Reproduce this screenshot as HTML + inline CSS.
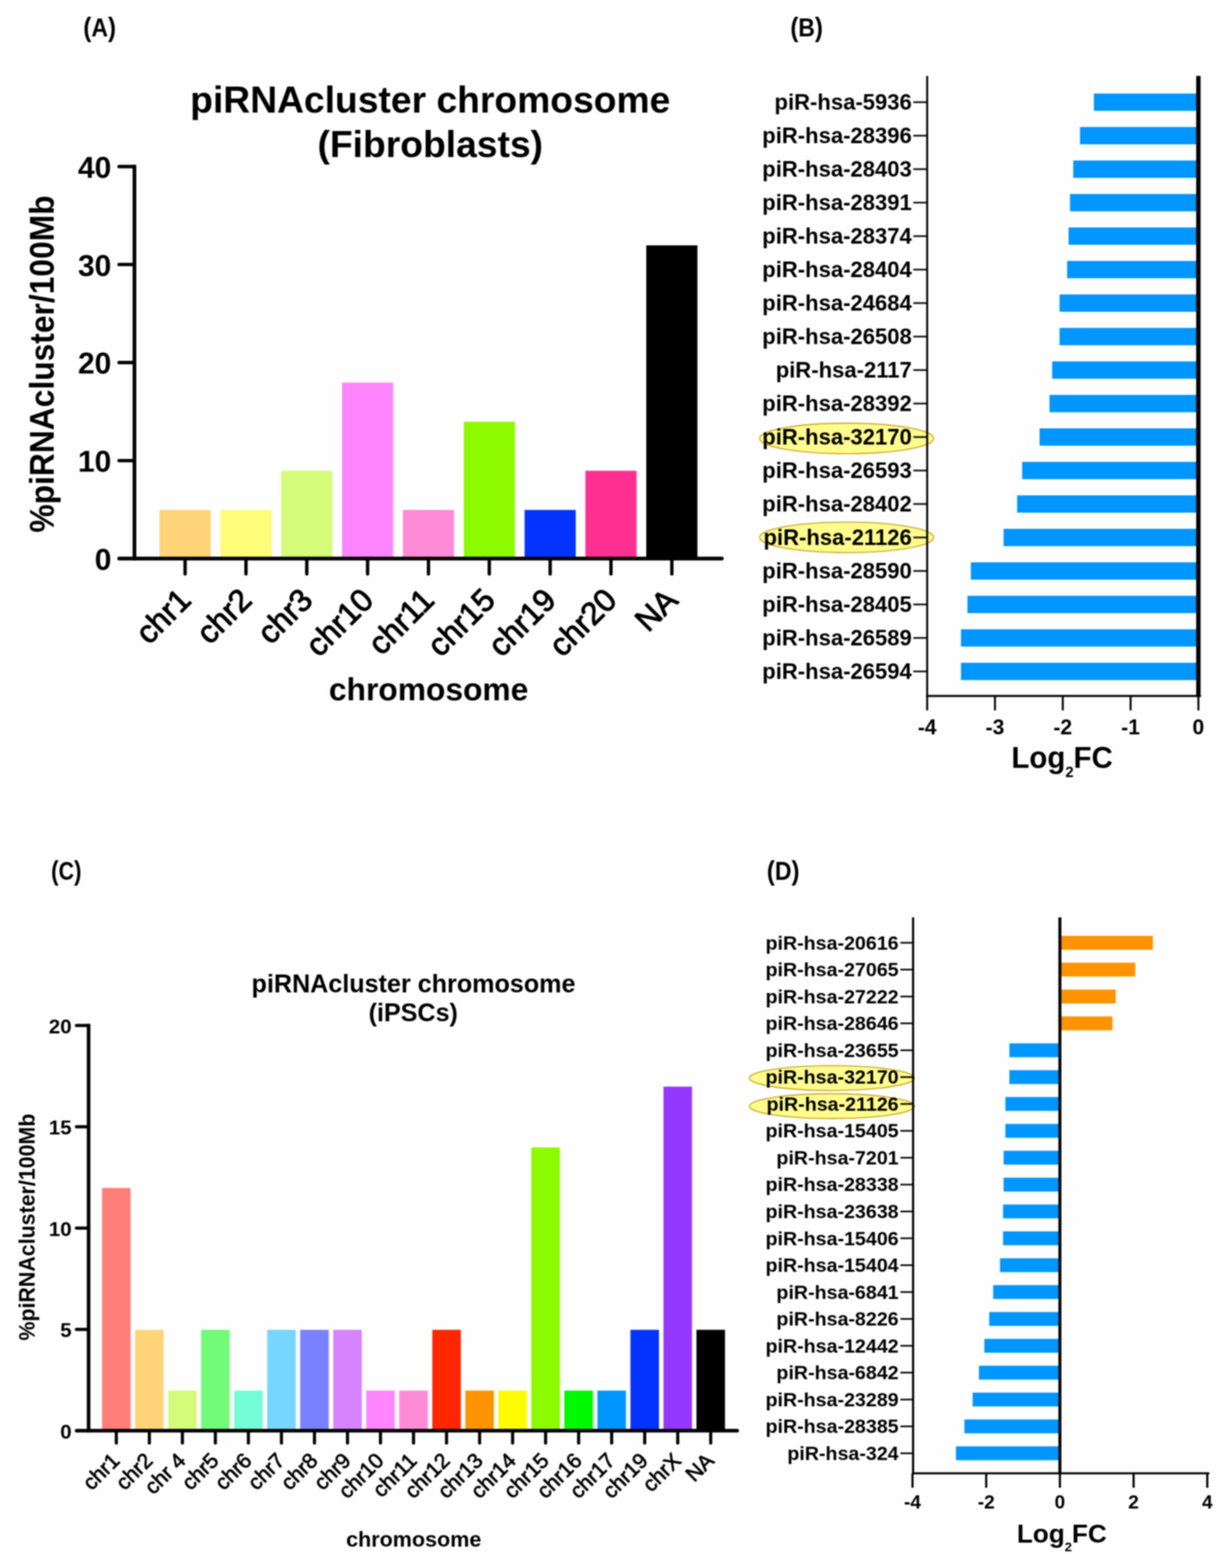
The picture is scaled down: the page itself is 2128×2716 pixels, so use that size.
<!DOCTYPE html>
<html lang="en">
<head>
<meta charset="utf-8">
<title>piRNAcluster chromosome figure</title>
<style>
html,body{margin:0;padding:0;background:#fefefe;}
body{width:2128px;height:2716px;overflow:hidden;}
svg{display:block;filter:blur(0.8px);}
svg text{font-family:"Liberation Sans", Arial, Helvetica, sans-serif;font-weight:700;fill:#000;}
svg text.r{font-weight:400;stroke:#000;stroke-width:1.1px;stroke-linejoin:round;}
svg text.ra{stroke-width:1.6px;}
</style>
</head>
<body>
<svg width="2128" height="2716" viewBox="0 0 2128 2716">
<rect x="0" y="0" width="2128" height="2716" fill="#fefefe"/>
<g id="panelA">
<text x="144.3" y="62.8" font-size="43.5" text-anchor="start" textLength="56.5" lengthAdjust="spacingAndGlyphs"><tspan font-size="45.5">(</tspan>A<tspan font-size="45.5">)</tspan></text>
<text x="745.0" y="195.4" font-size="64.5" text-anchor="middle">piRNAcluster chromosome</text>
<text x="745.0" y="271.8" font-size="64.5" text-anchor="middle">(Fibroblasts)</text>
<rect x="276.2" y="883.3" width="88.6" height="84.2" fill="#FFD479"/>
<rect x="381.6" y="883.3" width="88.6" height="84.2" fill="#FFFC79"/>
<rect x="486.9" y="815.4" width="88.6" height="152.1" fill="#D4FB79"/>
<rect x="592.2" y="662.7" width="88.6" height="304.8" fill="#FF85FF"/>
<rect x="697.6" y="883.3" width="88.6" height="84.2" fill="#FF8AD8"/>
<rect x="803.0" y="730.5" width="88.6" height="237.0" fill="#8EFA00"/>
<rect x="908.3" y="883.3" width="88.6" height="84.2" fill="#0433FF"/>
<rect x="1013.6" y="815.4" width="88.6" height="152.1" fill="#FF2F92"/>
<rect x="1119.0" y="425.0" width="88.6" height="542.5" fill="#000000"/>
<line x1="232.8" y1="285.6" x2="232.8" y2="970.7" stroke="#000" stroke-width="6.4"/>
<line x1="206.4" y1="967.5" x2="1249.8" y2="967.5" stroke="#000" stroke-width="6.4" stroke-linecap="round"/>
<line x1="206.1" y1="797.8" x2="232.8" y2="797.8" stroke="#000" stroke-width="5.8" stroke-linecap="round"/>
<line x1="206.1" y1="628.0" x2="232.8" y2="628.0" stroke="#000" stroke-width="5.8" stroke-linecap="round"/>
<line x1="206.1" y1="458.2" x2="232.8" y2="458.2" stroke="#000" stroke-width="5.8" stroke-linecap="round"/>
<line x1="206.1" y1="288.5" x2="232.8" y2="288.5" stroke="#000" stroke-width="5.8" stroke-linecap="round"/>
<text x="192.8" y="986.9" font-size="52" text-anchor="end">0</text>
<text x="192.8" y="817.1" font-size="52" text-anchor="end">10</text>
<text x="192.8" y="647.4" font-size="52" text-anchor="end">20</text>
<text x="192.8" y="477.6" font-size="52" text-anchor="end">30</text>
<text x="192.8" y="307.9" font-size="52" text-anchor="end">40</text>
<line x1="320.5" y1="967.5" x2="320.5" y2="994.1" stroke="#000" stroke-width="5.8" stroke-linecap="round"/>
<text x="333.6" y="1042.7" font-size="55" text-anchor="end" transform="rotate(-45 333.6 1042.7)" class="r ra">chr1</text>
<line x1="425.9" y1="967.5" x2="425.9" y2="994.1" stroke="#000" stroke-width="5.8" stroke-linecap="round"/>
<text x="439.0" y="1042.7" font-size="55" text-anchor="end" transform="rotate(-45 439.0 1042.7)" class="r ra">chr2</text>
<line x1="531.2" y1="967.5" x2="531.2" y2="994.1" stroke="#000" stroke-width="5.8" stroke-linecap="round"/>
<text x="544.3" y="1042.7" font-size="55" text-anchor="end" transform="rotate(-45 544.3 1042.7)" class="r ra">chr3</text>
<line x1="636.5" y1="967.5" x2="636.5" y2="994.1" stroke="#000" stroke-width="5.8" stroke-linecap="round"/>
<text x="649.6" y="1042.7" font-size="55" text-anchor="end" transform="rotate(-45 649.6 1042.7)" class="r ra">chr10</text>
<line x1="741.9" y1="967.5" x2="741.9" y2="994.1" stroke="#000" stroke-width="5.8" stroke-linecap="round"/>
<text x="755.0" y="1042.7" font-size="55" text-anchor="end" transform="rotate(-45 755.0 1042.7)" class="r ra">chr11</text>
<line x1="847.2" y1="967.5" x2="847.2" y2="994.1" stroke="#000" stroke-width="5.8" stroke-linecap="round"/>
<text x="860.4" y="1042.7" font-size="55" text-anchor="end" transform="rotate(-45 860.4 1042.7)" class="r ra">chr15</text>
<line x1="952.6" y1="967.5" x2="952.6" y2="994.1" stroke="#000" stroke-width="5.8" stroke-linecap="round"/>
<text x="965.7" y="1042.7" font-size="55" text-anchor="end" transform="rotate(-45 965.7 1042.7)" class="r ra">chr19</text>
<line x1="1057.9" y1="967.5" x2="1057.9" y2="994.1" stroke="#000" stroke-width="5.8" stroke-linecap="round"/>
<text x="1071.0" y="1042.7" font-size="55" text-anchor="end" transform="rotate(-45 1071.0 1042.7)" class="r ra">chr20</text>
<line x1="1163.3" y1="967.5" x2="1163.3" y2="994.1" stroke="#000" stroke-width="5.8" stroke-linecap="round"/>
<text x="1176.4" y="1042.7" font-size="55" text-anchor="end" transform="rotate(-45 1176.4 1042.7)" class="r ra">NA</text>
<text x="92.5" y="630.5" font-size="59.5" text-anchor="middle" transform="rotate(-90 92.5 630.5)" textLength="584" lengthAdjust="spacingAndGlyphs">%piRNAcluster/100Mb</text>
<text x="742.2" y="1213.4" font-size="55" text-anchor="middle">chromosome</text>
</g>
<g id="panelB">
<text x="1368.4" y="62.8" font-size="43.5" text-anchor="start" textLength="56.5" lengthAdjust="spacingAndGlyphs"><tspan font-size="45.5">(</tspan>B<tspan font-size="45.5">)</tspan></text>
<ellipse cx="1466.0" cy="759.4" rx="150.8" ry="26.4" fill="#FFFC8E" stroke="#C8A21C" stroke-width="1.8"/>
<ellipse cx="1466.0" cy="930.8" rx="150.8" ry="26.4" fill="#FFFC8E" stroke="#C8A21C" stroke-width="1.8"/>
<rect x="1894.0" y="162.0" width="181.0" height="30.0" fill="#0096FF"/>
<line x1="1581.4" y1="177.0" x2="1605.4" y2="177.0" stroke="#000" stroke-width="2.8"/>
<text x="1578.8" y="190.1" font-size="38.2" text-anchor="end">piR-hsa-5936</text>
<rect x="1870.0" y="220.0" width="205.0" height="30.0" fill="#0096FF"/>
<line x1="1581.4" y1="235.0" x2="1605.4" y2="235.0" stroke="#000" stroke-width="2.8"/>
<text x="1578.8" y="248.1" font-size="38.2" text-anchor="end">piR-hsa-28396</text>
<rect x="1858.3" y="278.0" width="216.7" height="30.0" fill="#0096FF"/>
<line x1="1581.4" y1="293.0" x2="1605.4" y2="293.0" stroke="#000" stroke-width="2.8"/>
<text x="1578.8" y="306.1" font-size="38.2" text-anchor="end">piR-hsa-28403</text>
<rect x="1852.7" y="336.0" width="222.3" height="30.0" fill="#0096FF"/>
<line x1="1581.4" y1="351.0" x2="1605.4" y2="351.0" stroke="#000" stroke-width="2.8"/>
<text x="1578.8" y="364.1" font-size="38.2" text-anchor="end">piR-hsa-28391</text>
<rect x="1850.2" y="394.0" width="224.8" height="30.0" fill="#0096FF"/>
<line x1="1581.4" y1="409.0" x2="1605.4" y2="409.0" stroke="#000" stroke-width="2.8"/>
<text x="1578.8" y="422.1" font-size="38.2" text-anchor="end">piR-hsa-28374</text>
<rect x="1847.7" y="452.0" width="227.3" height="30.0" fill="#0096FF"/>
<line x1="1581.4" y1="467.0" x2="1605.4" y2="467.0" stroke="#000" stroke-width="2.8"/>
<text x="1578.8" y="480.1" font-size="38.2" text-anchor="end">piR-hsa-28404</text>
<rect x="1834.6" y="510.0" width="240.4" height="30.0" fill="#0096FF"/>
<line x1="1581.4" y1="525.0" x2="1605.4" y2="525.0" stroke="#000" stroke-width="2.8"/>
<text x="1578.8" y="538.1" font-size="38.2" text-anchor="end">piR-hsa-24684</text>
<rect x="1834.6" y="568.0" width="240.4" height="30.0" fill="#0096FF"/>
<line x1="1581.4" y1="583.0" x2="1605.4" y2="583.0" stroke="#000" stroke-width="2.8"/>
<text x="1578.8" y="596.1" font-size="38.2" text-anchor="end">piR-hsa-26508</text>
<rect x="1821.8" y="626.0" width="253.2" height="30.0" fill="#0096FF"/>
<line x1="1581.4" y1="641.0" x2="1605.4" y2="641.0" stroke="#000" stroke-width="2.8"/>
<text x="1578.8" y="654.1" font-size="38.2" text-anchor="end">piR-hsa-2117</text>
<rect x="1817.2" y="684.0" width="257.8" height="30.0" fill="#0096FF"/>
<line x1="1581.4" y1="699.0" x2="1605.4" y2="699.0" stroke="#000" stroke-width="2.8"/>
<text x="1578.8" y="712.1" font-size="38.2" text-anchor="end">piR-hsa-28392</text>
<rect x="1800.0" y="742.0" width="275.0" height="30.0" fill="#0096FF"/>
<line x1="1581.4" y1="757.0" x2="1605.4" y2="757.0" stroke="#000" stroke-width="2.8"/>
<text x="1578.8" y="770.1" font-size="38.2" text-anchor="end">piR-hsa-32170</text>
<rect x="1769.8" y="800.0" width="305.2" height="30.0" fill="#0096FF"/>
<line x1="1581.4" y1="815.0" x2="1605.4" y2="815.0" stroke="#000" stroke-width="2.8"/>
<text x="1578.8" y="828.1" font-size="38.2" text-anchor="end">piR-hsa-26593</text>
<rect x="1761.1" y="858.0" width="313.9" height="30.0" fill="#0096FF"/>
<line x1="1581.4" y1="873.0" x2="1605.4" y2="873.0" stroke="#000" stroke-width="2.8"/>
<text x="1578.8" y="886.1" font-size="38.2" text-anchor="end">piR-hsa-28402</text>
<rect x="1737.7" y="916.0" width="337.3" height="30.0" fill="#0096FF"/>
<line x1="1581.4" y1="931.0" x2="1605.4" y2="931.0" stroke="#000" stroke-width="2.8"/>
<text x="1578.8" y="944.1" font-size="38.2" text-anchor="end">piR-hsa-21126</text>
<rect x="1681.0" y="974.0" width="394.0" height="30.0" fill="#0096FF"/>
<line x1="1581.4" y1="989.0" x2="1605.4" y2="989.0" stroke="#000" stroke-width="2.8"/>
<text x="1578.8" y="1002.1" font-size="38.2" text-anchor="end">piR-hsa-28590</text>
<rect x="1675.1" y="1032.0" width="399.9" height="30.0" fill="#0096FF"/>
<line x1="1581.4" y1="1047.0" x2="1605.4" y2="1047.0" stroke="#000" stroke-width="2.8"/>
<text x="1578.8" y="1060.1" font-size="38.2" text-anchor="end">piR-hsa-28405</text>
<rect x="1663.9" y="1090.0" width="411.1" height="30.0" fill="#0096FF"/>
<line x1="1581.4" y1="1105.0" x2="1605.4" y2="1105.0" stroke="#000" stroke-width="2.8"/>
<text x="1578.8" y="1118.1" font-size="38.2" text-anchor="end">piR-hsa-26589</text>
<rect x="1663.9" y="1148.0" width="411.1" height="30.0" fill="#0096FF"/>
<line x1="1581.4" y1="1163.0" x2="1605.4" y2="1163.0" stroke="#000" stroke-width="2.8"/>
<text x="1578.8" y="1176.1" font-size="38.2" text-anchor="end">piR-hsa-26594</text>
<line x1="1605.4" y1="131.5" x2="1605.4" y2="1207.2" stroke="#000" stroke-width="3.4"/>
<line x1="1603.7" y1="1205.5" x2="2079.5" y2="1205.5" stroke="#000" stroke-width="3.4"/>
<line x1="2075.0" y1="131.5" x2="2075.0" y2="1207.2" stroke="#000" stroke-width="7.6"/>
<line x1="1605.4" y1="1205.5" x2="1605.4" y2="1230.5" stroke="#000" stroke-width="3.4"/>
<text x="1605.4" y="1272.0" font-size="36.5" text-anchor="middle">-4</text>
<line x1="1722.8" y1="1205.5" x2="1722.8" y2="1230.5" stroke="#000" stroke-width="3.4"/>
<text x="1722.8" y="1272.0" font-size="36.5" text-anchor="middle">-3</text>
<line x1="1840.2" y1="1205.5" x2="1840.2" y2="1230.5" stroke="#000" stroke-width="3.4"/>
<text x="1840.2" y="1272.0" font-size="36.5" text-anchor="middle">-2</text>
<line x1="1957.6" y1="1205.5" x2="1957.6" y2="1230.5" stroke="#000" stroke-width="3.4"/>
<text x="1957.6" y="1272.0" font-size="36.5" text-anchor="middle">-1</text>
<line x1="2075.0" y1="1205.5" x2="2075.0" y2="1230.5" stroke="#000" stroke-width="3.4"/>
<text x="2075.0" y="1272.0" font-size="36.5" text-anchor="middle">0</text>
<text x="1839.0" y="1329.5" font-size="51" text-anchor="middle">Log<tspan font-size="25.5" dy="16.8">2</tspan><tspan dy="-16.8">FC</tspan></text>
</g>
<g id="panelC">
<text x="88.6" y="1524.2" font-size="43.5" text-anchor="start" textLength="52.5" lengthAdjust="spacingAndGlyphs"><tspan font-size="45.5">(</tspan>C<tspan font-size="45.5">)</tspan></text>
<text x="716.0" y="1719.3" font-size="43.5" text-anchor="middle">piRNAcluster chromosome</text>
<text x="715.5" y="1769.2" font-size="43.5" text-anchor="middle">(iPSCs)</text>
<rect x="176.7" y="2057.7" width="49.4" height="420.5" fill="#FF7E79"/>
<rect x="233.9" y="2303.4" width="49.4" height="174.8" fill="#FFD479"/>
<rect x="291.1" y="2408.7" width="49.4" height="69.5" fill="#D4FB79"/>
<rect x="348.2" y="2303.4" width="49.4" height="174.8" fill="#73FA79"/>
<rect x="405.4" y="2408.7" width="49.4" height="69.5" fill="#73FCD6"/>
<rect x="462.6" y="2303.4" width="49.4" height="174.8" fill="#76D6FF"/>
<rect x="519.8" y="2303.4" width="49.4" height="174.8" fill="#7A81FF"/>
<rect x="577.0" y="2303.4" width="49.4" height="174.8" fill="#D783FF"/>
<rect x="634.1" y="2408.7" width="49.4" height="69.5" fill="#FF85FF"/>
<rect x="691.3" y="2408.7" width="49.4" height="69.5" fill="#FF8AD8"/>
<rect x="748.5" y="2303.4" width="49.4" height="174.8" fill="#FF2600"/>
<rect x="805.7" y="2408.7" width="49.4" height="69.5" fill="#FF9300"/>
<rect x="862.9" y="2408.7" width="49.4" height="69.5" fill="#FFFB00"/>
<rect x="920.0" y="1987.5" width="49.4" height="490.7" fill="#8EFA00"/>
<rect x="977.2" y="2408.7" width="49.4" height="69.5" fill="#00F900"/>
<rect x="1034.4" y="2408.7" width="49.4" height="69.5" fill="#0096FF"/>
<rect x="1091.6" y="2303.4" width="49.4" height="174.8" fill="#0433FF"/>
<rect x="1148.8" y="1882.2" width="49.4" height="596.0" fill="#9437FF"/>
<rect x="1205.9" y="2303.4" width="49.4" height="174.8" fill="#000000"/>
<line x1="153.4" y1="1773.5" x2="153.4" y2="2481.3" stroke="#000" stroke-width="6.2"/>
<line x1="132.7" y1="2478.2" x2="1276.4" y2="2478.2" stroke="#000" stroke-width="6.2" stroke-linecap="round"/>
<line x1="132.3" y1="2302.7" x2="153.4" y2="2302.7" stroke="#000" stroke-width="5.4" stroke-linecap="round"/>
<line x1="132.3" y1="2127.2" x2="153.4" y2="2127.2" stroke="#000" stroke-width="5.4" stroke-linecap="round"/>
<line x1="132.3" y1="1951.7" x2="153.4" y2="1951.7" stroke="#000" stroke-width="5.4" stroke-linecap="round"/>
<line x1="132.3" y1="1776.2" x2="153.4" y2="1776.2" stroke="#000" stroke-width="5.4" stroke-linecap="round"/>
<text x="124.0" y="2491.6" font-size="35.5" text-anchor="end">0</text>
<text x="124.0" y="2316.1" font-size="35.5" text-anchor="end">5</text>
<text x="124.0" y="2140.6" font-size="35.5" text-anchor="end">10</text>
<text x="124.0" y="1965.1" font-size="35.5" text-anchor="end">15</text>
<text x="124.0" y="1789.6" font-size="35.5" text-anchor="end">20</text>
<line x1="201.4" y1="2478.2" x2="201.4" y2="2499.6" stroke="#000" stroke-width="5.4" stroke-linecap="round"/>
<text x="209.2" y="2532.3" font-size="36.9" text-anchor="end" transform="rotate(-45 209.2 2532.3)" class="r">chr1</text>
<line x1="258.6" y1="2478.2" x2="258.6" y2="2499.6" stroke="#000" stroke-width="5.4" stroke-linecap="round"/>
<text x="266.4" y="2532.3" font-size="36.9" text-anchor="end" transform="rotate(-45 266.4 2532.3)" class="r">chr2</text>
<line x1="315.8" y1="2478.2" x2="315.8" y2="2499.6" stroke="#000" stroke-width="5.4" stroke-linecap="round"/>
<text x="323.6" y="2532.3" font-size="36.9" text-anchor="end" transform="rotate(-45 323.6 2532.3)" class="r">chr 4</text>
<line x1="372.9" y1="2478.2" x2="372.9" y2="2499.6" stroke="#000" stroke-width="5.4" stroke-linecap="round"/>
<text x="380.7" y="2532.3" font-size="36.9" text-anchor="end" transform="rotate(-45 380.7 2532.3)" class="r">chr5</text>
<line x1="430.1" y1="2478.2" x2="430.1" y2="2499.6" stroke="#000" stroke-width="5.4" stroke-linecap="round"/>
<text x="437.9" y="2532.3" font-size="36.9" text-anchor="end" transform="rotate(-45 437.9 2532.3)" class="r">chr6</text>
<line x1="487.3" y1="2478.2" x2="487.3" y2="2499.6" stroke="#000" stroke-width="5.4" stroke-linecap="round"/>
<text x="495.1" y="2532.3" font-size="36.9" text-anchor="end" transform="rotate(-45 495.1 2532.3)" class="r">chr7</text>
<line x1="544.5" y1="2478.2" x2="544.5" y2="2499.6" stroke="#000" stroke-width="5.4" stroke-linecap="round"/>
<text x="552.3" y="2532.3" font-size="36.9" text-anchor="end" transform="rotate(-45 552.3 2532.3)" class="r">chr8</text>
<line x1="601.7" y1="2478.2" x2="601.7" y2="2499.6" stroke="#000" stroke-width="5.4" stroke-linecap="round"/>
<text x="609.5" y="2532.3" font-size="36.9" text-anchor="end" transform="rotate(-45 609.5 2532.3)" class="r">chr9</text>
<line x1="658.8" y1="2478.2" x2="658.8" y2="2499.6" stroke="#000" stroke-width="5.4" stroke-linecap="round"/>
<text x="666.6" y="2532.3" font-size="36.9" text-anchor="end" transform="rotate(-45 666.6 2532.3)" class="r">chr10</text>
<line x1="716.0" y1="2478.2" x2="716.0" y2="2499.6" stroke="#000" stroke-width="5.4" stroke-linecap="round"/>
<text x="723.8" y="2532.3" font-size="36.9" text-anchor="end" transform="rotate(-45 723.8 2532.3)" class="r">chr11</text>
<line x1="773.2" y1="2478.2" x2="773.2" y2="2499.6" stroke="#000" stroke-width="5.4" stroke-linecap="round"/>
<text x="781.0" y="2532.3" font-size="36.9" text-anchor="end" transform="rotate(-45 781.0 2532.3)" class="r">chr12</text>
<line x1="830.4" y1="2478.2" x2="830.4" y2="2499.6" stroke="#000" stroke-width="5.4" stroke-linecap="round"/>
<text x="838.2" y="2532.3" font-size="36.9" text-anchor="end" transform="rotate(-45 838.2 2532.3)" class="r">chr13</text>
<line x1="887.6" y1="2478.2" x2="887.6" y2="2499.6" stroke="#000" stroke-width="5.4" stroke-linecap="round"/>
<text x="895.4" y="2532.3" font-size="36.9" text-anchor="end" transform="rotate(-45 895.4 2532.3)" class="r">chr14</text>
<line x1="944.7" y1="2478.2" x2="944.7" y2="2499.6" stroke="#000" stroke-width="5.4" stroke-linecap="round"/>
<text x="952.5" y="2532.3" font-size="36.9" text-anchor="end" transform="rotate(-45 952.5 2532.3)" class="r">chr15</text>
<line x1="1001.9" y1="2478.2" x2="1001.9" y2="2499.6" stroke="#000" stroke-width="5.4" stroke-linecap="round"/>
<text x="1009.7" y="2532.3" font-size="36.9" text-anchor="end" transform="rotate(-45 1009.7 2532.3)" class="r">chr16</text>
<line x1="1059.1" y1="2478.2" x2="1059.1" y2="2499.6" stroke="#000" stroke-width="5.4" stroke-linecap="round"/>
<text x="1066.9" y="2532.3" font-size="36.9" text-anchor="end" transform="rotate(-45 1066.9 2532.3)" class="r">chr17</text>
<line x1="1116.3" y1="2478.2" x2="1116.3" y2="2499.6" stroke="#000" stroke-width="5.4" stroke-linecap="round"/>
<text x="1124.1" y="2532.3" font-size="36.9" text-anchor="end" transform="rotate(-45 1124.1 2532.3)" class="r">chr19</text>
<line x1="1173.5" y1="2478.2" x2="1173.5" y2="2499.6" stroke="#000" stroke-width="5.4" stroke-linecap="round"/>
<text x="1181.3" y="2532.3" font-size="36.9" text-anchor="end" transform="rotate(-45 1181.3 2532.3)" class="r">chrX</text>
<line x1="1230.6" y1="2478.2" x2="1230.6" y2="2499.6" stroke="#000" stroke-width="5.4" stroke-linecap="round"/>
<text x="1238.4" y="2532.3" font-size="36.9" text-anchor="end" transform="rotate(-45 1238.4 2532.3)" class="r">NA</text>
<text x="59.8" y="2125.5" font-size="39" text-anchor="middle" transform="rotate(-90 59.8 2125.5)" textLength="393" lengthAdjust="spacingAndGlyphs">%piRNAcluster/100Mb</text>
<text x="716.3" y="2679.2" font-size="37.3" text-anchor="middle">chromosome</text>
</g>
<g id="panelD">
<text x="1327.8" y="1524.2" font-size="43.5" text-anchor="start" textLength="56.5" lengthAdjust="spacingAndGlyphs"><tspan font-size="45.5">(</tspan>D<tspan font-size="45.5">)</tspan></text>
<ellipse cx="1440.5" cy="1867.3" rx="143" ry="21.5" fill="#FFFC8E" stroke="#C8A21C" stroke-width="1.8"/>
<ellipse cx="1440.5" cy="1916.0" rx="143" ry="21.5" fill="#FFFC8E" stroke="#C8A21C" stroke-width="1.8"/>
<rect x="1835.2" y="1621.0" width="161.0" height="24.0" fill="#FF9300"/>
<line x1="1559.0" y1="1633.0" x2="1581.0" y2="1633.0" stroke="#000" stroke-width="2.8"/>
<text x="1556.0" y="1644.6" font-size="34" text-anchor="end">piR-hsa-20616</text>
<rect x="1835.2" y="1667.5" width="130.5" height="24.0" fill="#FF9300"/>
<line x1="1559.0" y1="1679.5" x2="1581.0" y2="1679.5" stroke="#000" stroke-width="2.8"/>
<text x="1556.0" y="1691.1" font-size="34" text-anchor="end">piR-hsa-27065</text>
<rect x="1835.2" y="1714.1" width="96.6" height="24.0" fill="#FF9300"/>
<line x1="1559.0" y1="1726.1" x2="1581.0" y2="1726.1" stroke="#000" stroke-width="2.8"/>
<text x="1556.0" y="1737.7" font-size="34" text-anchor="end">piR-hsa-27222</text>
<rect x="1835.2" y="1760.6" width="91.0" height="24.0" fill="#FF9300"/>
<line x1="1559.0" y1="1772.6" x2="1581.0" y2="1772.6" stroke="#000" stroke-width="2.8"/>
<text x="1556.0" y="1784.2" font-size="34" text-anchor="end">piR-hsa-28646</text>
<rect x="1747.7" y="1807.2" width="87.5" height="24.0" fill="#0096FF"/>
<line x1="1559.0" y1="1819.2" x2="1581.0" y2="1819.2" stroke="#000" stroke-width="2.8"/>
<text x="1556.0" y="1830.7" font-size="34" text-anchor="end">piR-hsa-23655</text>
<rect x="1747.7" y="1853.7" width="87.5" height="24.0" fill="#0096FF"/>
<line x1="1559.0" y1="1865.7" x2="1581.0" y2="1865.7" stroke="#000" stroke-width="2.8"/>
<text x="1556.0" y="1877.3" font-size="34" text-anchor="end">piR-hsa-32170</text>
<rect x="1740.8" y="1900.2" width="94.4" height="24.0" fill="#0096FF"/>
<line x1="1559.0" y1="1912.2" x2="1581.0" y2="1912.2" stroke="#000" stroke-width="2.8"/>
<text x="1556.0" y="1923.8" font-size="34" text-anchor="end">piR-hsa-21126</text>
<rect x="1740.8" y="1946.8" width="94.4" height="24.0" fill="#0096FF"/>
<line x1="1559.0" y1="1958.8" x2="1581.0" y2="1958.8" stroke="#000" stroke-width="2.8"/>
<text x="1556.0" y="1970.4" font-size="34" text-anchor="end">piR-hsa-15405</text>
<rect x="1737.7" y="1993.3" width="97.5" height="24.0" fill="#0096FF"/>
<line x1="1559.0" y1="2005.3" x2="1581.0" y2="2005.3" stroke="#000" stroke-width="2.8"/>
<text x="1556.0" y="2016.9" font-size="34" text-anchor="end">piR-hsa-7201</text>
<rect x="1737.7" y="2039.9" width="97.5" height="24.0" fill="#0096FF"/>
<line x1="1559.0" y1="2051.9" x2="1581.0" y2="2051.9" stroke="#000" stroke-width="2.8"/>
<text x="1556.0" y="2063.4" font-size="34" text-anchor="end">piR-hsa-28338</text>
<rect x="1736.8" y="2086.4" width="98.4" height="24.0" fill="#0096FF"/>
<line x1="1559.0" y1="2098.4" x2="1581.0" y2="2098.4" stroke="#000" stroke-width="2.8"/>
<text x="1556.0" y="2110.0" font-size="34" text-anchor="end">piR-hsa-23638</text>
<rect x="1736.8" y="2132.9" width="98.4" height="24.0" fill="#0096FF"/>
<line x1="1559.0" y1="2144.9" x2="1581.0" y2="2144.9" stroke="#000" stroke-width="2.8"/>
<text x="1556.0" y="2156.5" font-size="34" text-anchor="end">piR-hsa-15406</text>
<rect x="1731.5" y="2179.5" width="103.7" height="24.0" fill="#0096FF"/>
<line x1="1559.0" y1="2191.5" x2="1581.0" y2="2191.5" stroke="#000" stroke-width="2.8"/>
<text x="1556.0" y="2203.1" font-size="34" text-anchor="end">piR-hsa-15404</text>
<rect x="1719.7" y="2226.0" width="115.5" height="24.0" fill="#0096FF"/>
<line x1="1559.0" y1="2238.0" x2="1581.0" y2="2238.0" stroke="#000" stroke-width="2.8"/>
<text x="1556.0" y="2249.6" font-size="34" text-anchor="end">piR-hsa-6841</text>
<rect x="1712.8" y="2272.6" width="122.4" height="24.0" fill="#0096FF"/>
<line x1="1559.0" y1="2284.6" x2="1581.0" y2="2284.6" stroke="#000" stroke-width="2.8"/>
<text x="1556.0" y="2296.1" font-size="34" text-anchor="end">piR-hsa-8226</text>
<rect x="1704.4" y="2319.1" width="130.8" height="24.0" fill="#0096FF"/>
<line x1="1559.0" y1="2331.1" x2="1581.0" y2="2331.1" stroke="#000" stroke-width="2.8"/>
<text x="1556.0" y="2342.7" font-size="34" text-anchor="end">piR-hsa-12442</text>
<rect x="1695.0" y="2365.6" width="140.2" height="24.0" fill="#0096FF"/>
<line x1="1559.0" y1="2377.6" x2="1581.0" y2="2377.6" stroke="#000" stroke-width="2.8"/>
<text x="1556.0" y="2389.2" font-size="34" text-anchor="end">piR-hsa-6842</text>
<rect x="1684.1" y="2412.2" width="151.1" height="24.0" fill="#0096FF"/>
<line x1="1559.0" y1="2424.2" x2="1581.0" y2="2424.2" stroke="#000" stroke-width="2.8"/>
<text x="1556.0" y="2435.8" font-size="34" text-anchor="end">piR-hsa-23289</text>
<rect x="1669.8" y="2458.7" width="165.4" height="24.0" fill="#0096FF"/>
<line x1="1559.0" y1="2470.7" x2="1581.0" y2="2470.7" stroke="#000" stroke-width="2.8"/>
<text x="1556.0" y="2482.3" font-size="34" text-anchor="end">piR-hsa-28385</text>
<rect x="1655.2" y="2505.3" width="180.0" height="24.0" fill="#0096FF"/>
<line x1="1559.0" y1="2517.3" x2="1581.0" y2="2517.3" stroke="#000" stroke-width="2.8"/>
<text x="1556.0" y="2528.8" font-size="34" text-anchor="end">piR-hsa-324</text>
<line x1="1581.0" y1="1589.0" x2="1581.0" y2="2553.8" stroke="#000" stroke-width="3.7"/>
<line x1="1579.2" y1="2552.0" x2="2094.0" y2="2552.0" stroke="#000" stroke-width="3.7"/>
<line x1="1835.2" y1="1589.0" x2="1835.2" y2="2553.8" stroke="#000" stroke-width="5.2"/>
<line x1="1580.0" y1="2552.0" x2="1580.0" y2="2577.0" stroke="#000" stroke-width="3.7"/>
<text x="1580.0" y="2613.0" font-size="33" text-anchor="middle">-4</text>
<line x1="1707.6" y1="2552.0" x2="1707.6" y2="2577.0" stroke="#000" stroke-width="3.7"/>
<text x="1707.6" y="2613.0" font-size="33" text-anchor="middle">-2</text>
<line x1="1835.2" y1="2552.0" x2="1835.2" y2="2577.0" stroke="#000" stroke-width="3.7"/>
<text x="1835.2" y="2613.0" font-size="33" text-anchor="middle">0</text>
<line x1="1962.8" y1="2552.0" x2="1962.8" y2="2577.0" stroke="#000" stroke-width="3.7"/>
<text x="1962.8" y="2613.0" font-size="33" text-anchor="middle">2</text>
<line x1="2090.4" y1="2552.0" x2="2090.4" y2="2577.0" stroke="#000" stroke-width="3.7"/>
<text x="2090.4" y="2613.0" font-size="33" text-anchor="middle">4</text>
<text x="1838.5" y="2672.2" font-size="45.2" text-anchor="middle">Log<tspan font-size="22.5" dy="14.9">2</tspan><tspan dy="-14.9">FC</tspan></text>
</g>
</svg>
</body>
</html>
